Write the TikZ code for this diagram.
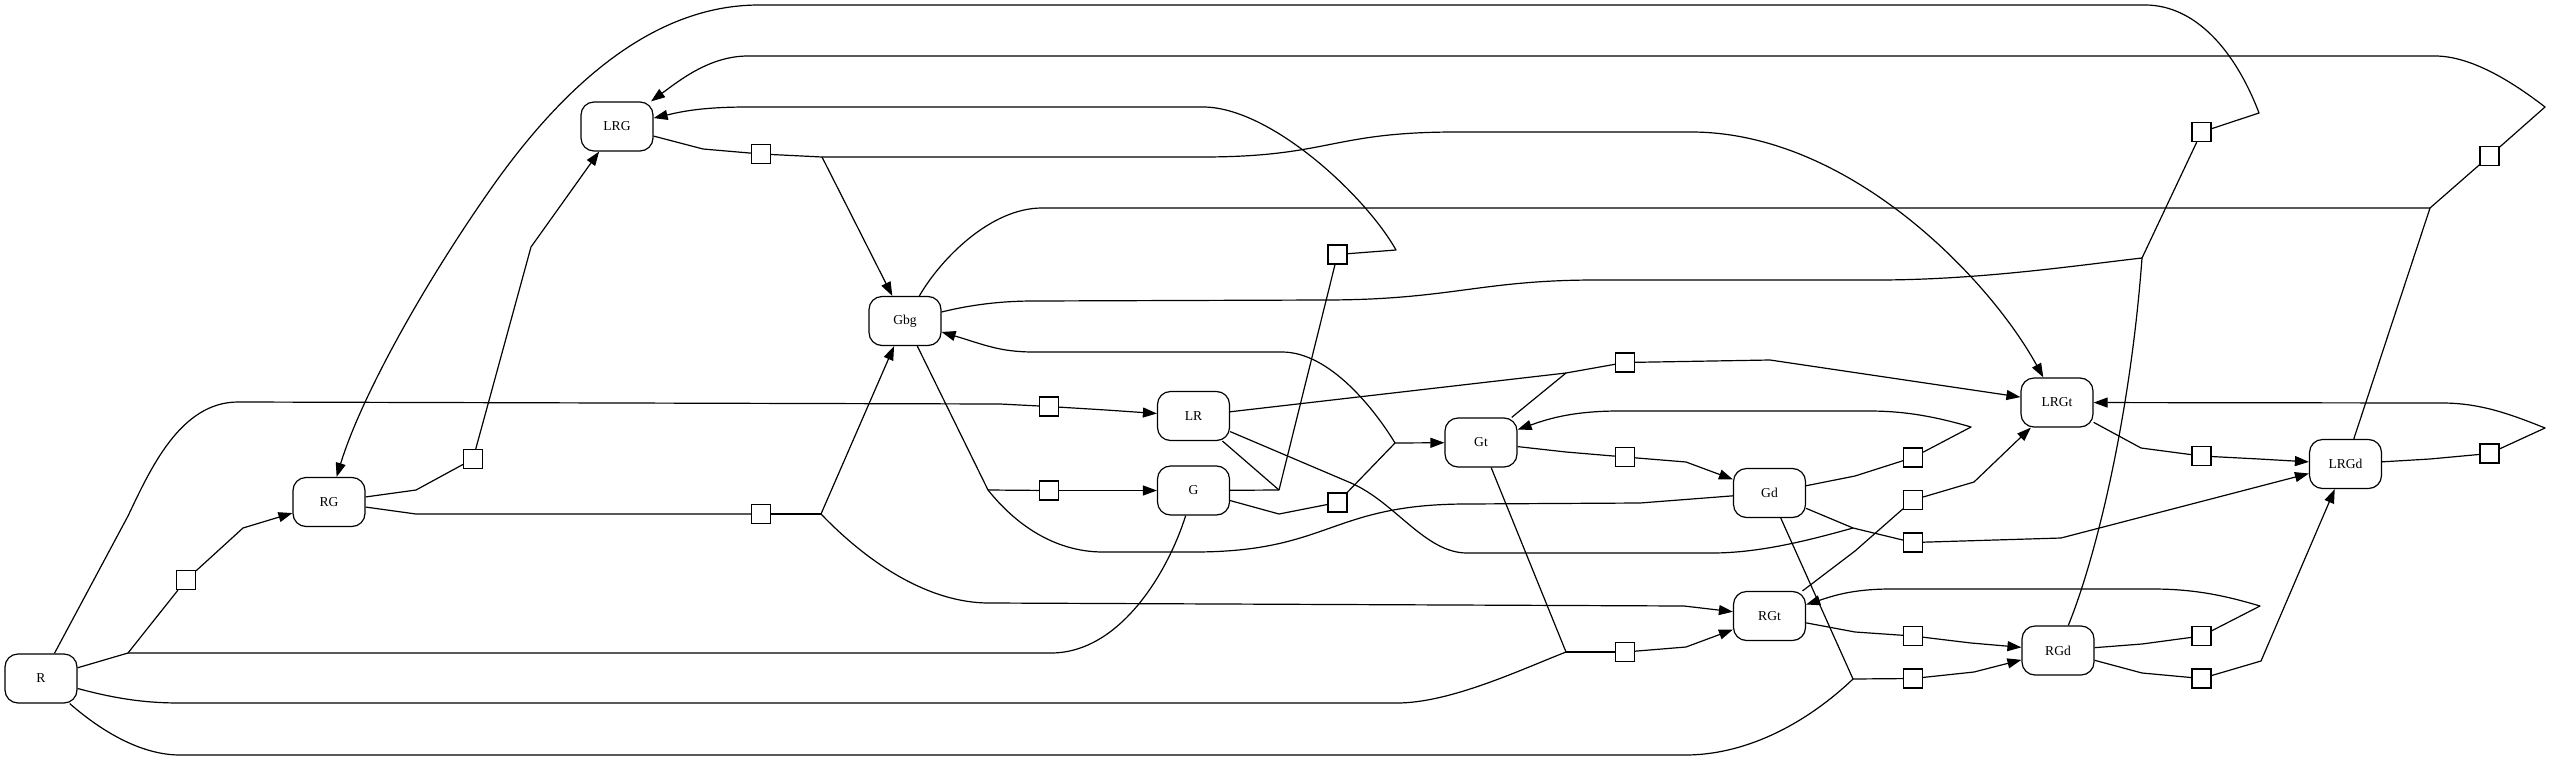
\documentclass[tikz,border=0pt]{standalone}
\usepackage{fontspec}
\setmainfont{Liberation Serif}
\usetikzlibrary{arrows.meta}
\begin{document}
\begin{tikzpicture}[x=0.5pt,y=-0.5pt,
  stbox/.style={draw, rounded corners=6.5pt, minimum width=36pt, minimum height=24.5pt, inner sep=0pt, fill=white, line width=0.6pt, font=\fontsize{6.8pt}{8pt}\selectfont},
  trbox/.style={draw, minimum size=9.5pt, inner sep=0pt, fill=white, line width=0.6pt},
  conn/.style={line width=0.6pt, line join=round},
  conna/.style={conn, -{Triangle[length=7pt,width=5pt]}}
]
\useasboundingbox (0,0) rectangle (2552,760);
% state nodes
\node[stbox] (R)    at (41,678.5)   {R};
\node[stbox] (RG)   at (329,502)    {RG};
\node[stbox] (LRG)  at (617,126.5)  {LRG};
\node[stbox] (Gbg)  at (905,321)    {Gbg};
\node[stbox] (LR)   at (1193.5,416) {LR};
\node[stbox] (G)    at (1193.5,490.5) {G};
\node[stbox] (Gt)   at (1481,442.5) {Gt};
\node[stbox] (Gd)   at (1769.5,493) {Gd};
\node[stbox] (RGt)  at (1769.5,616) {RGt};
\node[stbox] (LRGt) at (2057,402.5) {LRGt};
\node[stbox] (RGd)  at (2058,650.5) {RGd};
\node[stbox] (LRGd) at (2345.5,464) {LRGd};
% transition squares
\node[trbox] (A) at (186,580) {};
\node[trbox] (B) at (473,459) {};
\node[trbox] (C) at (761,154) {};
\node[trbox] (D) at (761,514) {};
\node[trbox] (E) at (1049,406.5) {};
\node[trbox] (F) at (1049,490.5) {};
\node[trbox] (H) at (1337.5,254.5) {};
\node[trbox] (I) at (1337.5,502.5) {};
\node[trbox] (J) at (1625,362.5) {};
\node[trbox] (K) at (1625,457) {};
\node[trbox] (M) at (1625,652) {};
\node[trbox] (N) at (1913,457.5) {};
\node[trbox] (O) at (1913,500) {};
\node[trbox] (P) at (1913,542.5) {};
\node[trbox] (Q) at (1913,636) {};
\node[trbox] (S) at (1913,678.5) {};
\node[trbox] (T) at (2201.5,132) {};
\node[trbox] (U) at (2201.5,456) {};
\node[trbox] (V) at (2201.5,636) {};
\node[trbox] (W) at (2201.5,678.5) {};
\node[trbox] (X) at (2489.5,156) {};
\node[trbox] (Y) at (2489.5,453.5) {};
% junctions
\coordinate (jA) at (128,653);
\coordinate (jC) at (822,157);
\coordinate (jD) at (821,514);
\coordinate (jF) at (988,490);
\coordinate (jH) at (1279,490);
\coordinate (jI) at (1395,443);
\coordinate (jJ) at (1566,373);
\coordinate (jM) at (1566,652);
\coordinate (jP) at (1853,528);
\coordinate (jS) at (1853,679);
\coordinate (jT) at (2142,258);
\coordinate (jX) at (2430,208);
% A
\draw[conn] (R) -- (jA);
\draw[conn] (G) .. controls (1168,572) and (1120,653) .. (1051,653) -- (jA);
\draw[conn] (jA) -- (A);
\draw[conna] (A) -- (243,528) -- (RG);
% B
\draw[conn] (RG) -- (416,490) -- (B);
\draw[conna] (B) -- (531,247) -- (LRG);
% C
\draw[conn] (LRG) -- (703,149) -- (C);
\draw[conn] (C) -- (jC);
\draw[conna] (jC) -- (Gbg);
\draw[conna] (jC) -- (1202,157) .. controls (1330,157) and (1330,132) .. (1456,132) -- (1691,132) .. controls (1850,132) and (1990,280) .. (LRGt);
% D
\draw[conn] (RG) -- (416,514) -- (D);
\draw[conn] (D) -- (jD);
\draw[conna] (jD) -- (Gbg);
\draw[conna] (jD) .. controls (870,565) and (930,603) .. (989,603) -- (1684,606) -- (RGt);
% E
\draw[conn] (R) -- (128,516) .. controls (150,470) and (180,402) .. (238,402) -- (1000,404) -- (E);
\draw[conna] (E) -- (1106,410) -- (LR);
% F
\draw[conn] (Gbg) -- (jF);
\draw[conn] (jF) -- (F);
\draw[conna] (F) -- (1106,490.5) -- (G);
\draw[conn] (Gd) -- (1640,503) -- (1467,504) .. controls (1330,504) and (1330,552) .. (1194,552) -- (1103,552) .. controls (1060,552) and (1020,530) .. (jF);
% H
\draw[conn] (LR) -- (jH);
\draw[conn] (G) -- (jH);
\draw[conn] (jH) -- (H);
\draw[conna] (H) -- (1396,250) .. controls (1365,195) and (1270,107) .. (1203,107) -- (748,107) .. controls (700,107) and (680,112) .. (LRG);
% I
\draw[conn] (G) -- (1279,514) -- (I);
\draw[conn] (I) -- (jI);
\draw[conna] (jI) -- (Gt);
\draw[conna] (jI) .. controls (1375,410) and (1330,352) .. (1282,352) -- (1034,352) .. controls (1000,352) and (985,345) .. (Gbg);
% J
\draw[conn] (LR) -- (jJ);
\draw[conn] (Gt) -- (jJ);
\draw[conn] (jJ) -- (J);
\draw[conna] (J) -- (1770,360) -- (LRGt);
% K
\draw[conn] (Gt) -- (1566,452) -- (K);
\draw[conna] (K) -- (1686,462) -- (Gd);
% M
\draw[conn] (Gt) -- (jM);
\draw[conn] (R) .. controls (120,700) and (150,703) .. (180,703) -- (1397,703) .. controls (1450,703) and (1520,670) .. (jM);
\draw[conn] (jM) -- (M);
\draw[conna] (M) -- (1686,647) -- (RGt);
% N
\draw[conn] (Gd) -- (1855,476) -- (N);
\draw[conna] (N) -- (1971,427) .. controls (1930,415) and (1900,411) .. (1869,411) -- (1619,411) .. controls (1570,411) and (1545,420) .. (Gt);
% O
\draw[conn] (RGt) -- (1855,551) -- (O);
\draw[conna] (O) -- (1974,482) -- (LRGt);
% P
\draw[conn] (Gd) -- (jP);
\draw[conn] (LR) -- (1351,483) .. controls (1395,502) and (1425,553) .. (1467,553) -- (1712,553) .. controls (1760,553) and (1810,540) .. (jP);
\draw[conn] (jP) -- (P);
\draw[conna] (P) -- (2061,538) -- (LRGd);
% Q
\draw[conn] (RGt) -- (1855,632) -- (Q);
\draw[conna] (Q) -- (1971,643) -- (RGd);
% S
\draw[conn] (Gd) -- (jS);
\draw[conn] (R) .. controls (100,730) and (140,755) .. (180,755) -- (1685,755) .. controls (1750,755) and (1810,720) .. (jS);
\draw[conn] (jS) -- (S);
\draw[conna] (S) -- (1974,672) -- (RGd);
% T
\draw[conn] (RGd) .. controls (2095,560) and (2130,420) .. (jT);
\draw[conn] (Gbg) .. controls (970,305) and (1000,301) .. (1034,301) -- (1324,300) .. controls (1450,300) and (1480,280) .. (1596,280) -- (1877,280) .. controls (1980,280) and (2080,265) .. (jT);
\draw[conn] (jT) -- (T);
\draw[conna] (T) -- (2259,113) .. controls (2235,50) and (2195,5) .. (2145,5) -- (759,5) .. controls (650,5) and (560,90) .. (490,190) .. controls (420,290) and (360,400) .. (RG);
% U
\draw[conn] (LRGt) -- (2141,448) -- (U);
\draw[conna] (U) -- (2259,459) -- (LRGd);
% V
\draw[conn] (RGd) -- (2142,644) -- (V);
\draw[conna] (V) -- (2260,606) .. controls (2220,594) and (2190,589) .. (2152,589) -- (1891,589) .. controls (1850,589) and (1830,597) .. (RGt);
% W
\draw[conn] (RGd) -- (2142,673) -- (W);
\draw[conna] (W) -- (2261,661) -- (LRGd);
% X
\draw[conn] (Gbg) .. controls (940,260) and (990,208) .. (1042,208) -- (jX);
\draw[conn] (LRGd) -- (jX);
\draw[conn] (jX) -- (X);
\draw[conna] (X) -- (2545,107) .. controls (2510,80) and (2470,56) .. (2435,56) -- (748,56) .. controls (710,56) and (680,80) .. (LRG);
% Y
\draw[conn] (LRGd) -- (2430,459) -- (Y);
\draw[conna] (Y) -- (2545,428) .. controls (2510,414) and (2480,403) .. (2442,403) -- (LRGt);
\end{tikzpicture}
\end{document}
